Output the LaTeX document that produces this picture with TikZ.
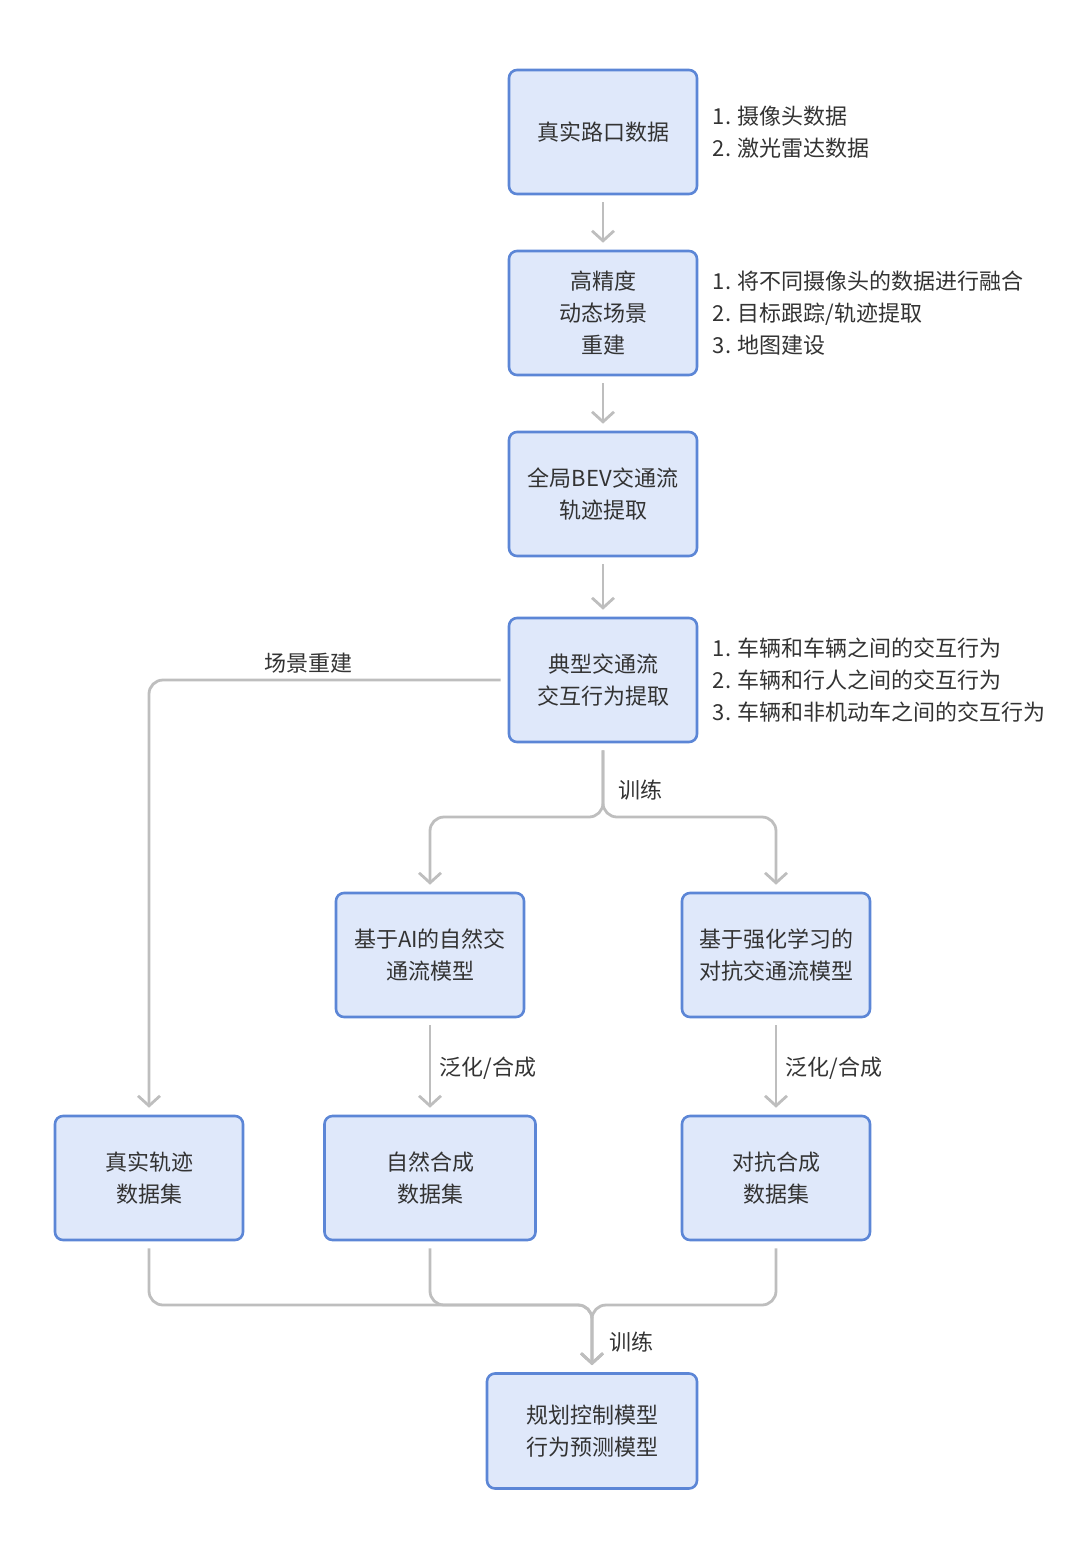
\documentclass[tikz,border=0pt]{standalone}
\usepackage{fontspec}
\setmainfont{Noto Sans CJK SC}
\usetikzlibrary{arrows.meta,positioning}
\definecolor{boxfill}{RGB}{223,232,250}
\definecolor{boxline}{RGB}{92,134,214}
\definecolor{wire}{RGB}{190,190,190}
\definecolor{ink}{RGB}{51,51,51}
\begin{document}
\begin{tikzpicture}[x=1pt,y=-1pt,
    stage/.style={draw=boxline,fill=boxfill,line width=2.6pt,rounded corners=8pt,minimum width=188pt,minimum height=124pt,align=center,text=ink,font=\fontsize{22}{32}\selectfont},
    note/.style={align=left,text=ink,font=\fontsize{22}{32}\selectfont,anchor=west},
    flow/.style={draw=wire,line width=2.8pt,rounded corners=14pt,shorten <=7pt,shorten >=7pt,-{Straight Barb[length=10pt,width=22pt]}},
    tag/.style={text=ink,font=\fontsize{22}{32}\selectfont}]
    \useasboundingbox (0,0) rectangle (1080,1551);
    %% Main column
    \node[stage] (real) at (603,132) {真实路口数据};
    \node[stage] (recon) at (603,313) {高精度\\动态场景\\重建};
    \node[stage] (bev) at (603,494) {全局BEV交通流\\轨迹提取};
    \node[stage] (inter) at (603,680) {典型交通流\\交互行为提取};
    %% Models
    \node[stage] (aimod) at (430,955) {基于AI的自然交\\通流模型};
    \node[stage] (rlmod) at (776,955) {基于强化学习的\\对抗交通流模型};
    %% Datasets
    \node[stage] (realset) at (149,1178) {真实轨迹\\数据集};
    \node[stage,minimum width=211pt] (natset) at (430,1178) {自然合成\\数据集};
    \node[stage] (advset) at (776,1178) {对抗合成\\数据集};
    \node[stage,minimum width=210pt,minimum height=115pt] (plan) at (592,1431) {规划控制模型\\行为预测模型};
    %% Notes
    \node[note,right=11pt of real] (realnote) {1. 摄像头数据\\2. 激光雷达数据};
    \node[note,right=11pt of recon] (reconnote) {1. 将不同摄像头的数据进行融合\\2. 目标跟踪/轨迹提取\\3. 地图建设};
    \node[note,right=11pt of inter] (internote) {1. 车辆和车辆之间的交互行为\\2. 车辆和行人之间的交互行为\\3. 车辆和非机动车之间的交互行为};
    %% Junctions
    \coordinate (split) at (603,817);
    \coordinate (join) at (592,1305);
    %% Connectors
    \draw[flow] (real) -- (recon);
    \draw[flow] (recon) -- (bev);
    \draw[flow] (bev) -- (inter);
    \draw[flow] (inter.south) -- (split) -| (aimod.north);
    \draw[flow] (inter.south) -- (split) -| (rlmod.north);
    \draw[flow] (inter.west) -| (realset.north);
    \draw[flow] (aimod) -- (natset);
    \draw[flow] (rlmod) -- (advset);
    \draw[flow] (realset.south) |- (join) -- (plan.north);
    \draw[flow] (natset.south) |- (join) -- (plan.north);
    \draw[flow] (advset.south) |- (join) -- (plan.north);
    %% Labels
    \node[tag] (train1) at (640,790) {训练};
    \node[tag] (scene) at (308,663) {场景重建};
    \node[tag] (gen1) at (488,1068) {泛化/合成};
    \node[tag] (gen2) at (834,1068) {泛化/合成};
    \node[tag] (train2) at (631,1342) {训练};
\end{tikzpicture}
\end{document}
